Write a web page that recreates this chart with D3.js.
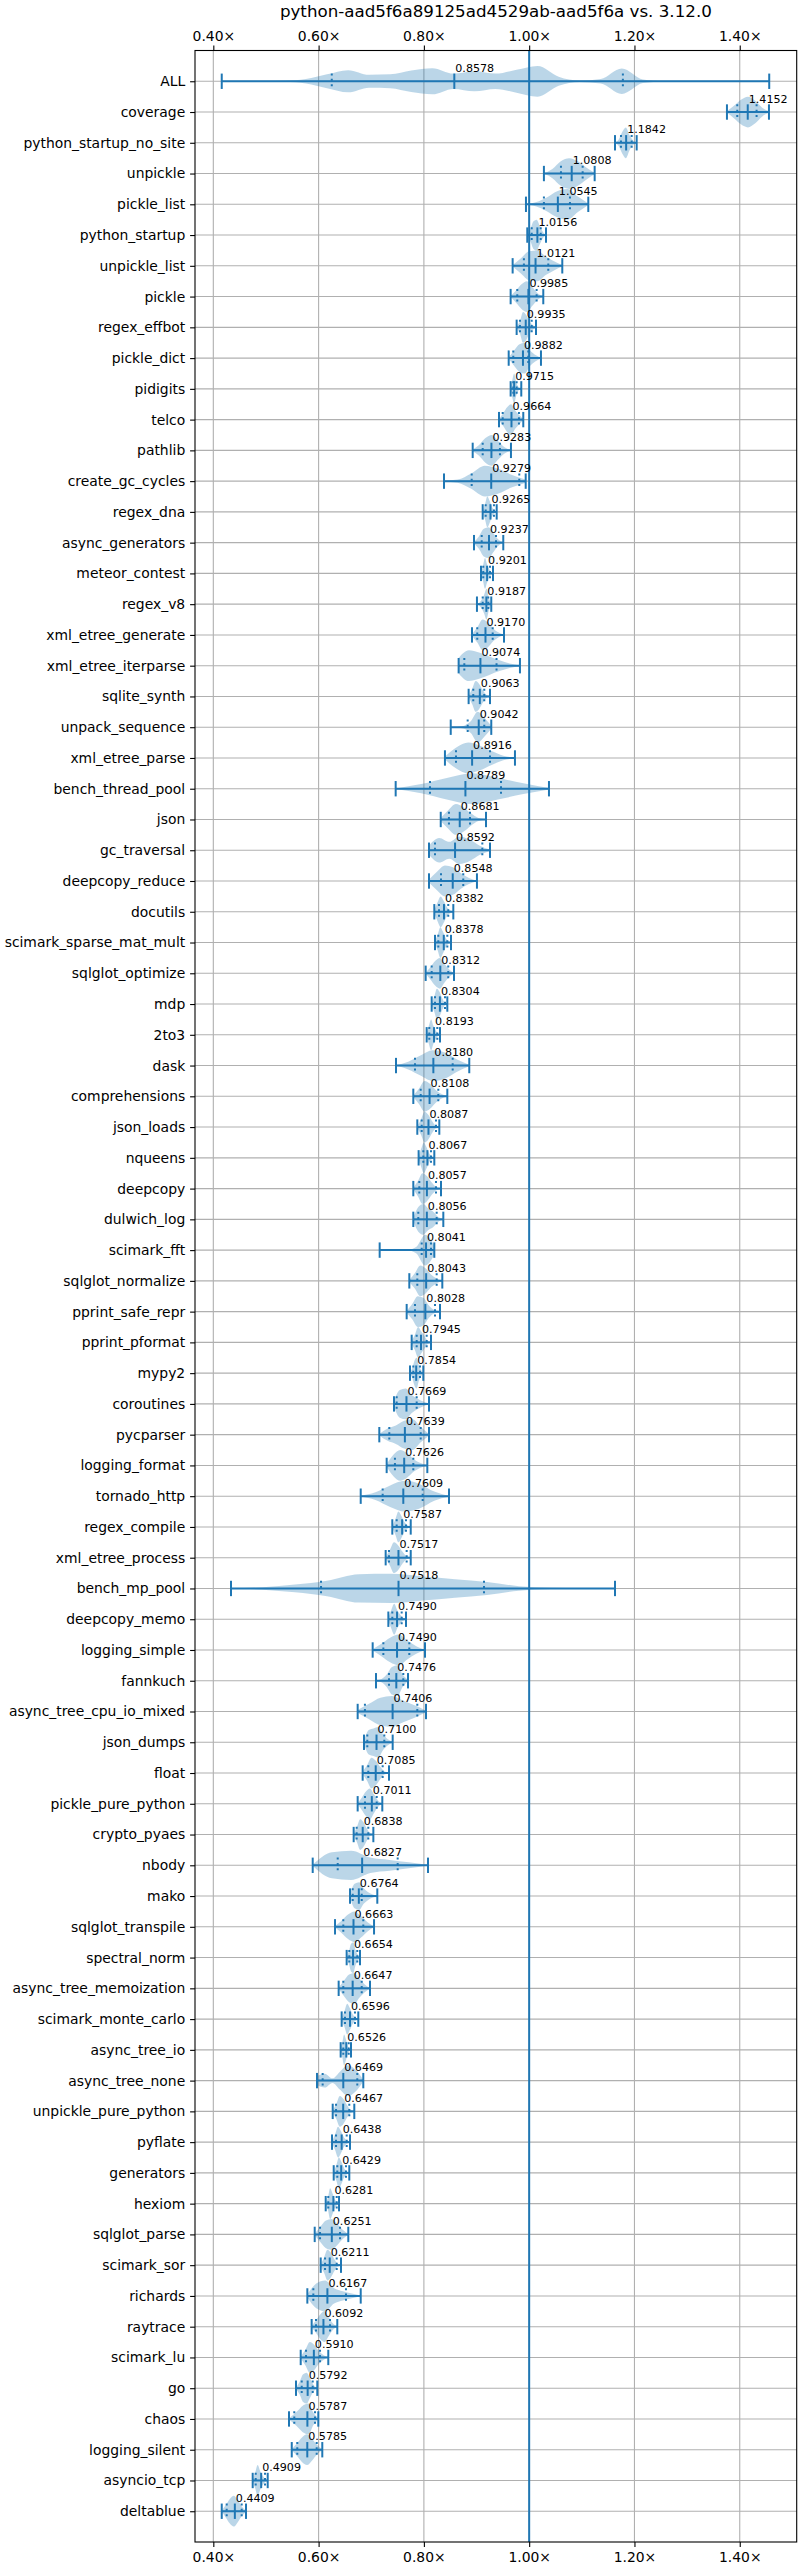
<!DOCTYPE html>
<html>
<head>
<meta charset="utf-8">
<script src="https://cdn.jsdelivr.net/npm/d3@7"></script>
<style>
  body { margin: 0; background: #fff; }
  svg { display: block; font-family: "DejaVu Sans", sans-serif; }
</style>
</head>
<body>
<svg id="chart" width="800" height="2570"></svg>
<script>
// BENCHMARK NAMES (top to bottom)
var names = ["ALL","coverage","python_startup_no_site","unpickle","pickle_list","python_startup",
  "unpickle_list","pickle","regex_effbot","pickle_dict","pidigits","telco","pathlib","create_gc_cycles",
  "regex_dna","async_generators","meteor_contest","regex_v8","xml_etree_generate","xml_etree_iterparse",
  "sqlite_synth","unpack_sequence","xml_etree_parse","bench_thread_pool","json","gc_traversal",
  "deepcopy_reduce","docutils","scimark_sparse_mat_mult","sqlglot_optimize","mdp","2to3","dask",
  "comprehensions","json_loads","nqueens","deepcopy","dulwich_log","scimark_fft","sqlglot_normalize",
  "pprint_safe_repr","pprint_pformat","mypy2","coroutines","pycparser","logging_format","tornado_http",
  "regex_compile","xml_etree_process","bench_mp_pool","deepcopy_memo","logging_simple","fannkuch",
  "async_tree_cpu_io_mixed","json_dumps","float","pickle_pure_python","crypto_pyaes","nbody","mako",
  "sqlglot_transpile","spectral_norm","async_tree_memoization","scimark_monte_carlo","async_tree_io",
  "async_tree_none","unpickle_pure_python","pyflate","generators","hexiom","sqlglot_parse","scimark_sor",
  "richards","raytrace","scimark_lu","go","chaos","logging_silent","asyncio_tcp","deltablue"];

// MEDIANS (labelled)
var medians = [0.8578,1.4152,1.1842,1.0808,1.0545,1.0156,1.0121,0.9985,0.9935,0.9882,0.9715,0.9664,
  0.9283,0.9279,0.9265,0.9237,0.9201,0.9187,0.9170,0.9074,0.9063,0.9042,0.8916,0.8789,0.8681,0.8592,
  0.8548,0.8382,0.8378,0.8312,0.8304,0.8193,0.8180,0.8108,0.8087,0.8067,0.8057,0.8056,0.8041,0.8043,
  0.8028,0.7945,0.7854,0.7669,0.7639,0.7626,0.7609,0.7587,0.7517,0.7518,0.7490,0.7490,0.7476,0.7406,
  0.7100,0.7085,0.7011,0.6838,0.6827,0.6764,0.6663,0.6654,0.6647,0.6596,0.6526,0.6469,0.6467,0.6438,
  0.6429,0.6281,0.6251,0.6211,0.6167,0.6092,0.5910,0.5792,0.5787,0.5785,0.4909,0.4409];

// MIN / MAX (end caps)
var mins = [0.416,1.3757,1.163,1.028,0.9939,0.9964,0.9686,0.9648,0.9762,0.9611,0.9648,0.9427,0.8927,
  0.8382,0.9117,0.8952,0.9085,0.9008,0.8914,0.866,0.885,0.851,0.840,0.7464,0.832,0.8097,0.8097,0.8198,
  0.8211,0.8034,0.8148,0.8053,0.747,0.7799,0.7875,0.790,0.7799,0.7799,0.716,0.7723,0.7673,0.7768,0.7736,
  0.7432,0.7153,0.7293,0.680,0.740,0.7274,0.4336,0.7325,0.7027,0.709,0.6742,0.6862,0.6837,0.6742,0.6666,
  0.5888,0.6597,0.6312,0.6533,0.6381,0.6438,0.6419,0.597,0.6268,0.6255,0.6287,0.6135,0.5926,0.604,
  0.5786,0.5868,0.566,0.5571,0.5438,0.549,0.4748,0.416];
var maxs = [1.456,1.4555,1.2042,1.1244,1.1123,1.032,1.0629,1.0268,1.013,1.0224,0.985,0.9888,0.9654,
  0.9934,0.9383,0.9508,0.9313,0.928,0.9522,0.9825,0.9256,0.928,0.973,1.0376,0.918,0.9256,0.9008,0.8559,
  0.8515,0.8572,0.8445,0.8306,0.8862,0.8445,0.8293,0.8198,0.8325,0.8369,0.8198,0.835,0.8306,0.8135,
  0.7989,0.8097,0.8097,0.8065,0.8477,0.775,0.775,1.163,0.766,0.8021,0.7698,0.804,0.7407,0.7337,0.721,
  0.704,0.8078,0.7115,0.7053,0.6786,0.6976,0.6754,0.6615,0.6849,0.6678,0.6597,0.6583,0.6388,0.6564,
  0.6425,0.680,0.6355,0.6184,0.5975,0.5994,0.607,0.5033,0.4621];

// LOWER / UPPER QUANTILE (dotted)
var qLow = [0.625,1.3953,1.1744,1.0604,1.028,1.0048,0.990,0.9774,0.9825,0.9698,0.9698,0.9497,0.9117,
  0.8908,0.9174,0.9098,0.9128,0.9117,0.9014,0.8768,0.8938,0.8832,0.861,0.8116,0.8476,0.8211,0.8325,
  0.8287,0.8274,0.8148,0.8211,0.8103,0.7831,0.7939,0.7958,0.7989,0.7913,0.7894,0.7958,0.7875,0.7831,
  0.7863,0.7799,0.7483,0.7343,0.745,0.7217,0.7483,0.7337,0.6046,0.740,0.723,0.7337,0.688,0.6925,0.6944,
  0.6881,0.6723,0.6363,0.6648,0.6469,0.6583,0.6469,0.6501,0.6469,0.6077,0.6331,0.6331,0.6355,0.6184,
  0.6027,0.6122,0.59,0.5951,0.5761,0.5679,0.5538,0.5595,0.4805,0.4254];
var qHigh = [1.178,1.432,1.1947,1.1016,1.0775,1.0219,1.0363,1.0142,1.0048,0.9983,0.9762,0.9806,0.9445,
  0.9812,0.9331,0.937,0.9256,0.9223,0.9307,0.938,0.9147,0.9147,0.9256,0.9465,0.8876,0.911,0.8748,0.8463,
  0.8445,0.8463,0.8401,0.8255,0.8547,0.8274,0.823,0.8135,0.823,0.8243,0.8135,0.8243,0.8211,0.8053,0.7926,
  0.7863,0.7939,0.7799,0.7977,0.766,0.7673,0.9142,0.7578,0.7723,0.7609,0.7875,0.7248,0.7217,0.7104,
  0.6944,0.7502,0.6819,0.6849,0.6735,0.6819,0.6691,0.6572,0.6735,0.6583,0.6534,0.652,0.6344,0.6407,
  0.6344,0.652,0.6217,0.6027,0.5888,0.5932,0.5964,0.4982,0.4539];

// VIOLIN PROFILES: relative half-widths at evenly spaced points from min to max
var shapes = [
  [0,0,0.01,0.04,0.15,0.45,0.72,0.42,0.45,0.7,0.85,0.5,0.65,0.5,0.75,1.0,0.3,0.05,0.15,0.83,0.12,0.01,0,0,0,0,0],
  [0.05,0.4,0.8,1,0.75,0.3,0.05],
  [0.02,0.2,0.7,1,0.5,0.15,0.02],
  [0.02,0.3,0.8,1,0.8,0.4,0.05],
  [0.02,0.15,0.45,0.85,1,0.5,0.05],
  [0.05,0.4,0.9,1,0.6,0.2,0.02],
  [0.05,0.5,0.95,1,0.6,0.3,0.05],
  [0.05,0.4,0.8,1,0.6,0.2,0.02],
  [0.05,0.4,1,0.8,0.4,0.15,0.02],
  [0.05,0.5,0.9,1,0.5,0.2,0.02],
  [0.1,0.6,1,0.5,0.2,0.05,0.02],
  [0.05,0.4,0.8,1,0.6,0.3,0.05],
  [0.05,0.35,0.8,1,0.6,0.2,0.02],
  [0.02,0.1,0.5,1,0.8,0.4,0.1],
  [0.05,0.5,1,0.7,0.3,0.1,0.02],
  [0.05,0.4,0.9,1,0.6,0.2,0.02],
  [0.05,0.5,1,0.6,0.3,0.1,0.02],
  [0.02,0.1,0.3,0.6,1,0.4,0.05],
  [0.05,0.5,1,0.8,0.4,0.15,0.02],
  [0.5,1,0.85,0.6,0.35,0.15,0.02],
  [0.05,0.5,1,0.8,0.4,0.1,0.02],
  [0,0.02,0.1,0.4,1,0.6,0.1],
  [0.1,0.7,1,0.8,0.45,0.15,0.02],
  [0.02,0.3,0.7,1,0.7,0.35,0.05],
  [0.1,0.6,1,0.8,0.4,0.1,0.02],
  [0.3,0.8,0.55,0.9,0.7,0.3,0.05],
  [0.1,0.6,1,0.9,0.5,0.2,0.02],
  [0.1,0.6,1,0.7,0.3,0.1,0.02],
  [0.1,0.5,1,0.7,0.3,0.1,0.02],
  [0.05,0.4,0.8,1,0.6,0.25,0.02],
  [0.05,0.5,1,0.8,0.4,0.1,0.02],
  [0.1,0.6,1,0.6,0.3,0.1,0.02],
  [0.02,0.25,0.65,1,0.85,0.4,0.05],
  [0.05,0.5,1,0.8,0.4,0.15,0.02],
  [0.05,0.5,1,0.8,0.4,0.1,0.02],
  [0.1,0.6,1,0.7,0.3,0.1,0.02],
  [0.05,0.5,1,0.8,0.4,0.1,0.02],
  [0.1,0.8,1,0.7,0.5,0.15,0.02],
  [0,0,0,0.01,0.2,1,0.3],
  [0.05,0.5,1,0.8,0.4,0.15,0.02],
  [0.05,0.5,1,0.9,0.4,0.1,0.02],
  [0.1,0.5,1,0.7,0.4,0.1,0.02],
  [0.05,0.3,0.8,1,0.5,0.2,0.02],
  [0.2,0.9,1,0.6,0.35,0.15,0.02],
  [0.05,0.4,0.6,0.9,1,0.5,0.05],
  [0.1,0.7,1,0.8,0.4,0.15,0.02],
  [0.02,0.25,0.7,1,0.8,0.3,0.02],
  [0.05,0.5,1,0.7,0.3,0.1,0.02],
  [0.05,0.5,1,0.8,0.4,0.1,0.02],
  [0,0.08,0.25,0.5,0.92,0.95,0.78,0.6,0.42,0.15,0.04,0.01,0],
  [0.1,0.6,1,0.6,0.3,0.1,0.02],
  [0.05,0.4,0.8,1,0.6,0.25,0.02],
  [0.02,0.1,0.4,0.9,1,0.4,0.05],
  [0.1,0.5,0.9,1,0.7,0.4,0.05],
  [0.1,0.8,0.9,1,0.5,0.2,0.02],
  [0.1,0.5,1,0.8,0.4,0.1,0.02],
  [0.05,0.4,0.8,1,0.6,0.2,0.02],
  [0.05,0.5,1,0.8,0.4,0.1,0.02],
  [0.05,0.85,0.95,0.5,0.35,0.2,0.02],
  [0.1,0.8,0.9,0.5,0.25,0.1,0.02],
  [0.05,0.4,0.8,1,0.7,0.3,0.02],
  [0.05,0.4,0.9,1,0.5,0.2,0.02],
  [0.05,0.5,0.9,1,0.6,0.25,0.02],
  [0.1,0.5,1,0.7,0.3,0.1,0.02],
  [0.1,0.5,1,0.7,0.3,0.1,0.02],
  [0.3,0.45,0.15,0.6,1,0.7,0.05],
  [0.05,0.5,1,0.8,0.4,0.1,0.02],
  [0.05,0.5,1,0.7,0.3,0.1,0.02],
  [0.05,0.5,1,0.7,0.3,0.1,0.02],
  [0.05,0.4,1,0.7,0.3,0.1,0.02],
  [0.05,0.5,0.9,1,0.7,0.3,0.02],
  [0.05,0.5,1,0.8,0.4,0.1,0.02],
  [0.1,0.8,1,0.5,0.3,0.15,0.02],
  [0.05,0.4,0.8,1,0.6,0.2,0.02],
  [0.05,0.5,1,0.8,0.4,0.15,0.02],
  [0.05,0.4,0.9,1,0.6,0.2,0.02],
  [0.05,0.3,0.6,0.9,1,0.4,0.05],
  [0.05,0.4,0.8,1,0.7,0.3,0.02],
  [0.05,0.5,1,0.6,0.3,0.1,0.02],
  [0.05,0.4,0.8,1,0.7,0.3,0.05]
];

// X TICKS
var xTicks = [0.4, 0.6, 0.8, 1.0, 1.2, 1.4];
var title = "python-aad5f6a89125ad4529ab-aad5f6a vs. 3.12.0";

var BLUE = "#1f77b4";
var svg = d3.select("#chart");
var L = 195, R = 796.7, T = 50.5, B = 2542;

var x = d3.scaleLinear().domain([0.3652, 1.5082]).range([L, R]);
var y = d3.scaleLinear().domain([0, names.length + 1]).range([T, B]);

// GRID
svg.append("g").selectAll("line.vg").data(xTicks).enter().append("line")
  .attr("x1", function(d) { return x(d); }).attr("x2", function(d) { return x(d); })
  .attr("y1", T).attr("y2", B)
  .attr("stroke", "#b0b0b0").attr("stroke-width", 1.1);
svg.append("g").selectAll("line.hg").data(names).enter().append("line")
  .attr("x1", L).attr("x2", R)
  .attr("y1", function(d, i) { return y(i + 1); }).attr("y2", function(d, i) { return y(i + 1); })
  .attr("stroke", "#b0b0b0").attr("stroke-width", 1.1);

// VIOLINS
var area = d3.area()
  .x(function(d) { return x(d.v); })
  .y0(function(d) { return y(d.row - d.w * 0.5); })
  .y1(function(d) { return y(d.row + d.w * 0.5); })
  .curve(d3.curveMonotoneX);

names.forEach(function(n, i) {
  var s = shapes[i], row = i + 1;
  var pts = s.map(function(w, k) {
    return { v: mins[i] + (maxs[i] - mins[i]) * k / (s.length - 1), w: w, row: row };
  });
  svg.append("path").datum(pts).attr("d", area)
    .attr("fill", BLUE).attr("fill-opacity", 0.3);
});

// RANGE LINES, CAPS, MEDIANS, QUANTILES
var g = svg.append("g").attr("stroke", BLUE);
names.forEach(function(n, i) {
  var row = i + 1, cy = y(row), h = y(0.25) - y(0);
  g.append("line").attr("x1", x(mins[i])).attr("x2", x(maxs[i]))
    .attr("y1", cy).attr("y2", cy).attr("stroke-width", 2);
  [mins[i], maxs[i], medians[i]].forEach(function(v) {
    g.append("line").attr("x1", x(v)).attr("x2", x(v))
      .attr("y1", cy - h).attr("y2", cy + h).attr("stroke-width", 2);
  });
  [qLow[i], qHigh[i]].forEach(function(v) {
    g.append("line").attr("x1", x(v)).attr("x2", x(v))
      .attr("y1", cy - h).attr("y2", cy + h).attr("stroke-width", 2)
      .attr("stroke-dasharray", "2,3.3");
  });
});

// 1.00 REFERENCE LINE
svg.append("line").attr("x1", x(1)).attr("x2", x(1)).attr("y1", T).attr("y2", B)
  .attr("stroke", BLUE).attr("stroke-width", 2);

// VALUE LABELS
svg.append("g").selectAll("text").data(medians).enter().append("text")
  .attr("x", function(d) { return x(d) + 1; })
  .attr("y", function(d, i) { return y(i + 1) - 9.3; })
  .attr("font-size", "11.1px").attr("fill", "#000")
  .text(function(d) { return d.toFixed(4); });

// AXES
function styleAxis(sel) {
  sel.select(".domain").remove();
  sel.selectAll(".tick line").attr("stroke", "#000").attr("stroke-width", 1.1);
  sel.selectAll(".tick text").attr("fill", "#000")
    .style("font-family", "DejaVu Sans").style("font-size", "13.9px");
}
var fmt = function(d) { return d.toFixed(2) + "\u00d7"; };
svg.append("g").attr("transform", "translate(0," + T + ")")
  .call(d3.axisTop(x).tickValues(xTicks).tickFormat(fmt).tickSize(4.9).tickPadding(4.9))
  .call(styleAxis);
svg.append("g").attr("transform", "translate(0," + B + ")")
  .call(d3.axisBottom(x).tickValues(xTicks).tickFormat(fmt).tickSize(4.9).tickPadding(4.9))
  .call(styleAxis);
svg.append("g").attr("transform", "translate(" + L + ",0)")
  .call(d3.axisLeft(y).tickValues(d3.range(1, names.length + 1))
    .tickFormat(function(d) { return names[d - 1]; }).tickSize(4.9).tickPadding(4.9))
  .call(styleAxis);

// FRAME
svg.append("rect").attr("x", L).attr("y", T).attr("width", R - L).attr("height", B - T)
  .attr("fill", "none").attr("stroke", "#000").attr("stroke-width", 1.1);

// TITLE
svg.append("text").attr("x", (L + R) / 2).attr("y", 17)
  .attr("text-anchor", "middle").attr("font-size", "16.7px").attr("fill", "#000")
  .text(title);
</script>
</body>
</html>
